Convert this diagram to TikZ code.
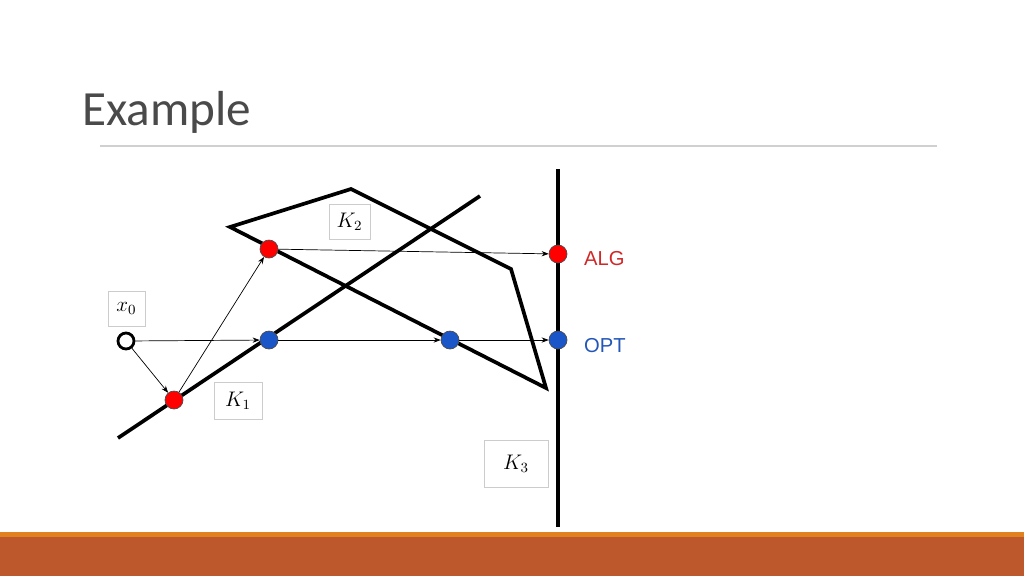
\documentclass[tikz,border=0pt]{standalone}
\usepackage{fontspec}
\setmainfont{Carlito}
\newfontfamily\arialfont{Liberation Sans}
\usetikzlibrary{arrows.meta}
\definecolor{titlegray}{HTML}{4A4A4A}
\definecolor{rulegray}{HTML}{D0D0D0}
\definecolor{barorange}{HTML}{E0821F}
\definecolor{barbrown}{HTML}{BD582C}
\definecolor{ptred}{HTML}{FF0000}
\definecolor{ptblue}{HTML}{1A56C8}
\definecolor{algred}{HTML}{D02828}
\definecolor{optblue}{HTML}{2256B8}
\begin{document}
\begin{tikzpicture}
	[x=0.02cm,y=-0.02cm,
	set/.style={line width=2.1pt,line join=miter},
	redpt/.style={circle,draw=black!70,fill=ptred,inner sep=0pt,minimum size=0.36cm},
	bluept/.style={circle,draw=black!70,fill=ptblue,inner sep=0pt,minimum size=0.36cm},
	startpt/.style={circle,draw=black,line width=1.6pt,fill=white,inner sep=0pt,minimum size=0.32cm},
	tag/.style={draw=black!20,fill=white,inner sep=0pt,font=\fontsize{12}{14}\selectfont},
	move/.style={-{Stealth[length=4pt,width=3pt]},line width=0.4pt}]
	\useasboundingbox (0,0) rectangle (1024,576);

	% slide frame
	\node[anchor=base west,text=titlegray,font=\fontsize{28}{32}\selectfont,inner sep=0pt] (title) at (82,125) {Example};
	\draw[rulegray,line width=0.8pt] (100,146) -- (937,146);
	\fill[barorange] (0,532) rectangle (1024,537);
	\fill[barbrown] (0,537) rectangle (1024,576);

	% the three sets
	\coordinate (k1a) at (118,438);
	\coordinate (k1b) at (480,196);
	\coordinate (k2a) at (230,227);
	\coordinate (k2b) at (351,189);
	\coordinate (k2c) at (511,269);
	\coordinate (k2d) at (546,388);
	\coordinate (k3a) at (558,169);
	\coordinate (k3b) at (558,527);
	\draw[set] (k1a) -- (k1b);
	\draw[set] (k2a) -- (k2b) -- (k2c) -- (k2d) -- cycle;
	\draw[set] (k3a) -- (k3b);

	% labels
	\node[tag,minimum width=0.74cm,minimum height=0.70cm] (lx0) at (126.5,308.5) {$x_0$};
	\node[tag,minimum width=0.82cm,minimum height=0.70cm] (lk2) at (349.5,221.5) {$K_2$};
	\node[tag,minimum width=0.96cm,minimum height=0.74cm] (lk1) at (238,400.5) {$K_1$};
	\node[tag,minimum width=1.28cm,minimum height=0.94cm] (lk3) at (516,463.5) {$K_3$};

	% iterates
	\node[startpt] (x0) at (126,341) {};
	\node[redpt] (r1) at (174,400) {};
	\node[redpt] (r2) at (269,249) {};
	\node[redpt] (alg) at (558,254) {};
	\node[bluept] (b1) at (269,340) {};
	\node[bluept] (b2) at (450,340) {};
	\node[bluept] (opt) at (558,340) {};

	\node[anchor=west,text=algred,font=\arialfont\fontsize{11.5}{13}\selectfont] (talg) at (578,259) {ALG};
	\node[anchor=west,text=optblue,font=\arialfont\fontsize{11.5}{13}\selectfont] (topt) at (578,346) {OPT};

	\foreach \from/\to in {x0/r1,r1/r2,r2/alg,x0/b1,b1/b2,b2/opt}
		\draw[move] (\from) -- (\to);
\end{tikzpicture}
\end{document}
